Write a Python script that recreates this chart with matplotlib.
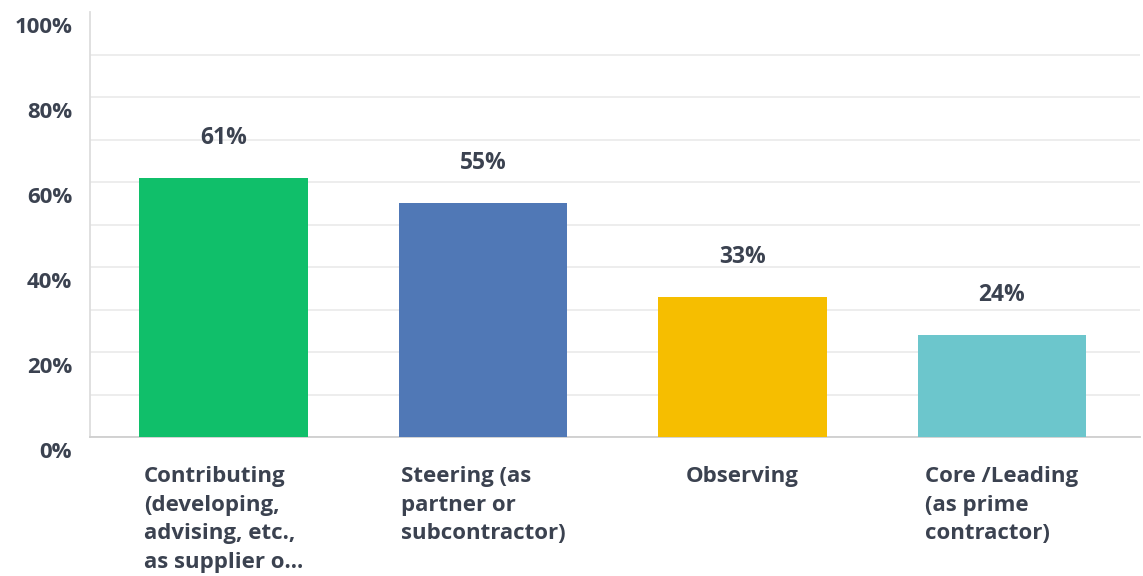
import matplotlib.pyplot as plt
from matplotlib.transforms import offset_copy

categories = [
    "Contributing\n(developing,\nadvising, etc.,\nas supplier o...",
    "Steering (as\npartner or\nsubcontractor)",
    "Observing",
    "Core /Leading\n(as prime\ncontractor)",
]
values = [61, 55, 33, 24]
colors = ["#10bf6a", "#5078b6", "#f6be00", "#6cc6cc"]
yticks = [0, 20, 40, 60, 80, 100]

txt = "#3b4250"
plt.rcParams["font.family"] = ["Open Sans", "DejaVu Sans"]

fig = plt.figure(figsize=(11.43, 5.76), dpi=100)
ax = fig.add_axes([0.079, 0.241, 0.918, 0.738])

x = list(range(len(values)))
ax.bar(x, values, width=0.65, color=colors, zorder=3)
for xi, v in zip(x, values):
    ax.annotate(f"{v}%", (xi, v), xytext=(0, 29), textcoords="offset points",
                ha="center", va="center", fontsize=16.5, fontweight="bold", color=txt)

ax.set_xlim(-0.513, 3.53)
ax.set_ylim(0, 100)
ax.set_yticks(yticks)
ax.set_yticks(range(10, 100, 20), minor=True)
ax.set_yticklabels([f"{t}%" for t in yticks], fontsize=16, fontweight="bold", color=txt)
ax.grid(axis="y", which="both", color="#ececec", linewidth=1.3, zorder=0)
ax.get_ygridlines()[-1].set_visible(False)
ax.tick_params(axis="y", which="both", length=0, pad=13)
for lab in ax.get_yticklabels():
    lab.set_transform(offset_copy(lab.get_transform(), fig=fig, y=-9, units="points"))

ax.set_xticks(x)
ax.set_xticklabels(categories, fontsize=16, fontweight="bold", color=txt,
                   ha="center", va="top", multialignment="left", linespacing=1.47)
ax.tick_params(axis="x", length=0, pad=21)

for s in ["top", "right"]:
    ax.spines[s].set_visible(False)
ax.spines["left"].set_color("#dddddd")
ax.spines["bottom"].set_color("#cfcfcf")
ax.spines["left"].set_linewidth(1.3)
ax.spines["bottom"].set_linewidth(1.3)

plt.savefig("out.png", dpi=100)
plt.close()
